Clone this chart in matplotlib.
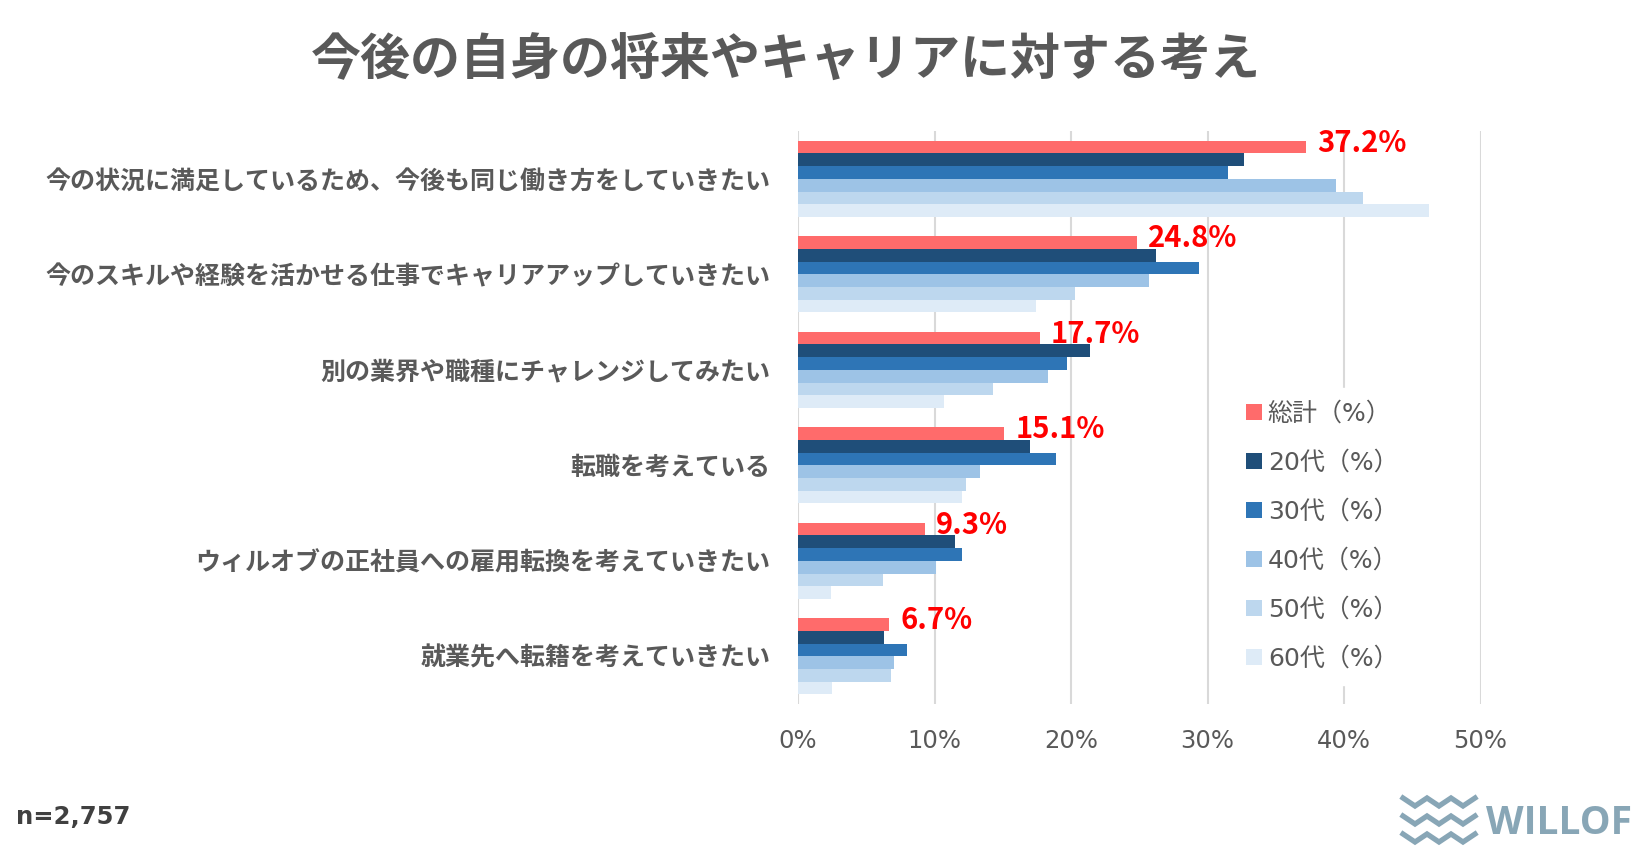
import matplotlib.pyplot as plt
import numpy as np
from matplotlib.lines import Line2D

plt.rcParams['font.family'] = ['Noto Sans CJK JP', 'DejaVu Sans']

# data
categories = [
    "今の状況に満足しているため、今後も同じ働き方をしていきたい",
    "今のスキルや経験を活かせる仕事でキャリアアップしていきたい",
    "別の業界や職種にチャレンジしてみたい",
    "転職を考えている",
    "ウィルオブの正社員への雇用転換を考えていきたい",
    "就業先へ転籍を考えていきたい",
]
series_names = ["総計（%）", "20代（%）", "30代（%）", "40代（%）", "50代（%）", "60代（%）"]
total = [37.2, 24.8, 17.7, 15.1, 9.3, 6.7]
age20 = [32.7, 26.2, 21.4, 17.0, 11.5, 6.3]
age30 = [31.5, 29.4, 19.7, 18.9, 12.0, 8.0]
age40 = [39.4, 25.7, 18.3, 13.3, 10.1, 7.0]
age50 = [41.4, 20.3, 14.3, 12.3, 6.2, 6.8]
age60 = [46.2, 17.4, 10.7, 12.0, 2.4, 2.5]
colors = ["#FF6B6B", "#1F4E79", "#2E75B6", "#9DC3E6", "#BDD7EE", "#DEEBF7"]

grey = "#595959"
latin = ["DejaVu Sans", "Noto Sans CJK JP"]

fig = plt.figure(figsize=(16.43, 8.61), dpi=100)
ax = fig.add_axes([0.4857, 0.1823, 0.4154, 0.6655])

y = np.arange(len(categories))
h = 0.8 / 6
containers = []
for i, (vals, name, c) in enumerate(zip([total, age20, age30, age40, age50, age60], series_names, colors)):
    bars = ax.barh(y + (i - 2.5) * h, np.array(vals) / 100, height=h, color=c, label=name, zorder=2)
    containers.append(bars)

labels = ax.bar_label(containers[0], labels=[f"{v:.1f}%" for v in total], padding=8,
                      color="#FF0000", fontsize=21, fontweight="bold")
for t in labels:
    t.xyann = (8, 3)

ax.set_ylim(len(categories) - 0.5, -0.5)
ax.set_xlim(0, 0.5)
ax.set_xticks(np.arange(0, 0.51, 0.1))
ax.set_xticklabels([f"{int(t)}%" for t in range(0, 51, 10)], family=latin)
ax.set_yticks(y)
ax.set_yticklabels(categories, fontweight="bold")
ax.tick_params(axis="y", length=0, pad=20, labelsize=18, labelcolor=grey)
ax.tick_params(axis="x", length=0, pad=18, labelsize=17.5, labelcolor=grey)
ax.xaxis.grid(True, color="#D9D9D9", linewidth=1.5, zorder=0)
ax.set_axisbelow(True)
for s in ax.spines.values():
    s.set_visible(False)

leg = ax.legend(loc="upper left", bbox_to_anchor=(1232 / 1643, 1 - 388 / 861),
                bbox_transform=fig.transFigure, frameon=True, facecolor="white",
                edgecolor="white", framealpha=1, prop={"family": latin, "size": 18},
                labelcolor=grey, handlelength=0.66, handleheight=0.66, handletextpad=0.22,
                labelspacing=1.0, borderpad=0.55, borderaxespad=0)
leg.set_zorder(5)

fig.text(0.4784, 1 - 61 / 861, "今後の自身の将来やキャリアに対する考え", ha="center", va="center",
         fontsize=36, fontweight="bold", color=grey)
fig.text(16 / 1643, 1 - 817 / 861, "n=2,757", ha="left", va="center",
         fontsize=17.5, fontweight="bold", color="#404040", family=latin)

# WILLOF logo
logo = "#88A6B6"
for yy in [802, 820, 838]:
    xs = 1403 + np.arange(7) * 12
    ys = yy + np.array([-4, 4, -4, 4, -4, 4, -4])
    fig.add_artist(Line2D(xs / 1643, 1 - ys / 861, transform=fig.transFigure,
                          color=logo, linewidth=3.8, solid_joinstyle="miter"))
fig.text(1486 / 1643, 1 - 823 / 861, "WILLOF", ha="left", va="center",
         fontsize=28, fontweight="bold", color=logo, family=["Open Sans", "DejaVu Sans"])

fig.savefig("out.png", dpi=100)
